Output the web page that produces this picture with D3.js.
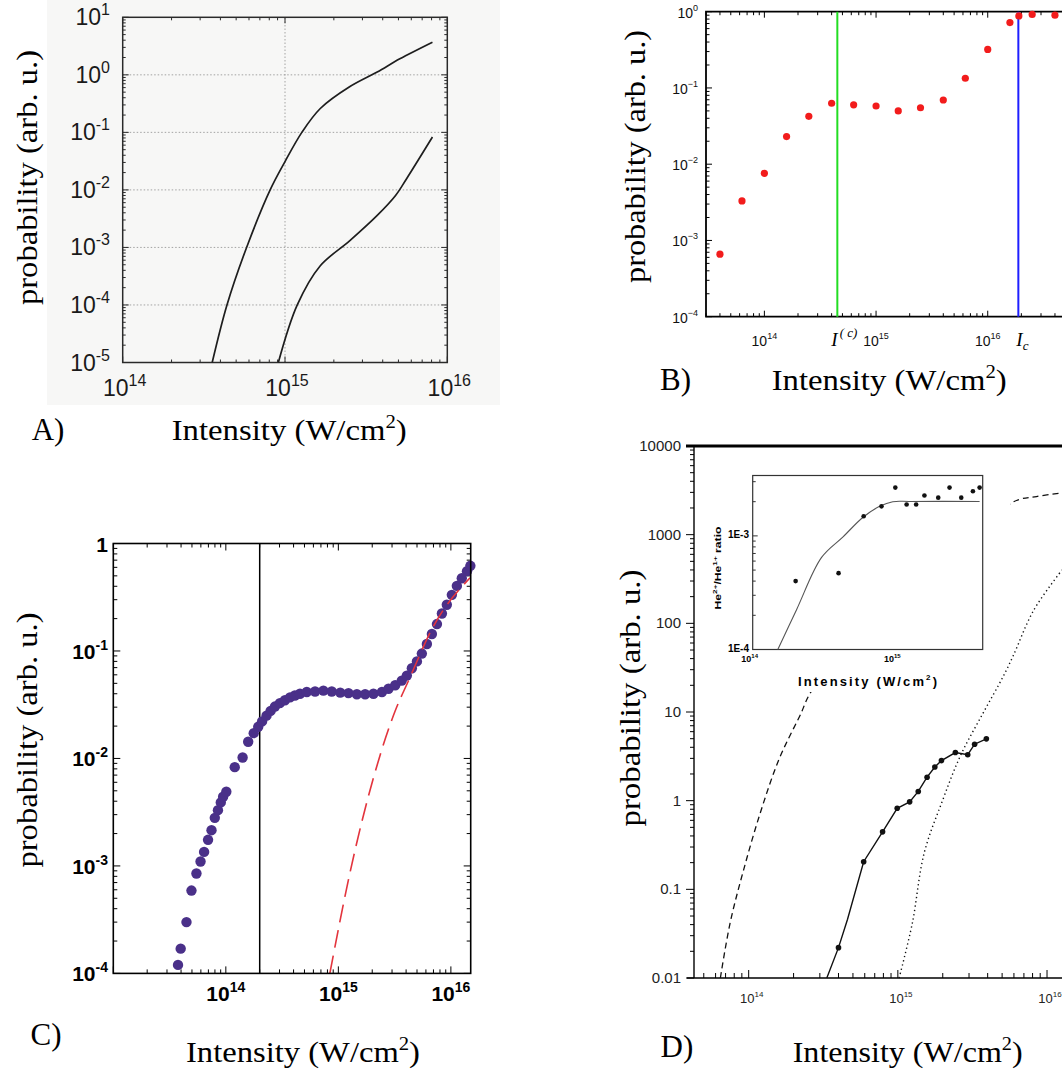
<!DOCTYPE html>
<html lang="en">
<head>
<meta charset="UTF-8">
<title>Ionization probability vs intensity</title>
<style>
  body { margin: 0; background: #fff; }
  svg { display: block; }
  .serif { font-family: "Liberation Serif", "Times New Roman", serif; }
  .sans { font-family: "Liberation Sans", Arial, sans-serif; }
</style>
</head>
<body>
<script src="https://d3js.org/d3.v7.min.js"></script>
<script>
// ---- data: [intensity W/cm2, probability] ----
// A) two computed curves
const aUpper = [[3.56e14,1e-5],[4.39e14,1e-4],[5.8e14,1e-3],[8.1e14,1e-2],[1.0e15,0.031],[1.27e15,0.1],[1.65e15,0.26],[2.5e15,0.62],[3.7e15,1.12],[5.1e15,1.9],[8.1e15,3.7]];
const aLower = [[9.1e14,1e-5],[1.19e15,1e-4],[1.65e15,4.8e-4],[2.5e15,1.3e-3],[3.7e15,3.6e-3],[4.8e15,8e-3],[5.6e15,0.0155],[8.1e15,0.083]];

// B) red points and the two marked intensities
const bPoints = [[4e13,6.6e-4],[6.3e13,3.3e-3],[1e14,7.6e-3],[1.58e14,0.023],[2.5e14,0.0425],[4e14,0.063],[6.3e14,0.060],[1e15,0.058],[1.58e15,0.050],[2.5e15,0.055],[4e15,0.0695],[6.3e15,0.134],[1e16,0.32],[1.58e16,0.72],[1.9e16,0.88],[2.5e16,0.92],[4e16,0.90]];
const bIcLow = 4.5e14;   // I^(c)
const bIcHigh = 1.88e16; // I_c

// C) purple points, dashed red curve, vertical marker
const cPoints = [[3.76e13,1.2e-4],[3.97e13,1.7e-4],[4.47e13,3.0e-4],[4.95e13,5.9e-4],[5.48e13,8.5e-4],[5.96e13,1.1e-3],[6.41e13,1.35e-3],[6.95e13,1.75e-3],[7.46e13,2.15e-3],[7.98e13,2.8e-3],[8.51e13,3.3e-3],[9.02e13,3.9e-3],[9.46e13,4.4e-3],[1.01e14,4.9e-3],[1.2e14,8.3e-3],[1.41e14,0.0102],[1.58e14,0.0143],[1.77e14,0.0172],[1.94e14,0.0197],[2.1e14,0.0221],[2.3e14,0.025],[2.5e14,0.0277],[2.73e14,0.0304],[3.02e14,0.0327],[3.35e14,0.0348],[3.72e14,0.037],[4.11e14,0.0385],[4.56e14,0.040],[5.24e14,0.0415],[6.21e14,0.042],[7.36e14,0.0428],[8.73e14,0.042],[1.04e15,0.041],[1.23e15,0.0405],[1.46e15,0.0396],[1.73e15,0.0396],[2.05e15,0.040],[2.44e15,0.0415],[2.79e15,0.0445],[3.2e15,0.048],[3.66e15,0.053],[4.06e15,0.059],[4.5e15,0.069],[4.99e15,0.080],[5.52e15,0.0946],[6.12e15,0.116],[6.78e15,0.144],[7.52e15,0.178],[8.32e15,0.223],[9.2e15,0.269],[1.02e16,0.333],[1.13e16,0.403],[1.25e16,0.475],[1.39e16,0.553],[1.49e16,0.62]];
const cDashed = [[8.4e14,1e-4],[1.27e15,8.7e-4],[2.05e15,6.6e-3],[3.19e15,0.0275],[4.17e15,0.052],[7.0e15,0.17],[1.48e16,0.48]];
const cMarker = 2e14;

// D) dashed and dotted curves, measured line with points
const dDashed = [[6.46e13,0.01],[7.5e13,0.0414],[9.25e13,0.166],[1.2e14,0.741],[1.6e14,2.95],[2.18e14,8.71],[2.83e14,20.4],[5.8e15,2290],[8.5e15,2690],[1.26e16,2950]];
const dDotted = [[1.02e15,0.01],[1.25e15,0.0414],[1.5e15,0.255],[2.0e15,1.02],[2.65e15,3.31],[3.72e15,9.66],[5.08e15,25.1],[5.94e15,43.2],[8.13e15,140],[1.26e16,400]];
const dLine = [[3.34e14,0.01],[4e14,0.022],[4.6e14,0.046],[5.9e14,0.205],[7.9e14,0.445],[9.9e14,0.82],[1.2e15,0.97],[1.37e15,1.27],[1.57e15,1.84],[1.77e15,2.4],[1.96e15,2.83],[2.43e15,3.49],[2.94e15,3.3],[3.27e15,4.33],[3.92e15,4.98]];
const dDots = dLine.slice(1).filter(d => d[0] !== 4.6e14);
const dYTicks = [0.01, 0.1, 1, 10, 100, 1000, 10000];

// D inset: He2+/He1+ ratio
const insetCurve = [[1.5e14,1e-4],[2.03e14,2.24e-4],[3.04e14,6.46e-4],[4.3e14,9.8e-4],[5.94e14,1.46e-3],[7.76e14,1.82e-3],[9.6e14,2.0e-3],[1.26e15,2.01e-3],[3.9e15,2.01e-3]];
const insetPoints = [[2e14,4e-4],[4e14,4.7e-4],[6e14,1.49e-3],[8e14,1.82e-3],[1e15,2.66e-3],[1.2e15,1.89e-3],[1.4e15,1.89e-3],[1.6e15,2.27e-3],[2e15,2.17e-3],[2.4e15,2.66e-3],[2.9e15,2.17e-3],[3.5e15,2.47e-3],[3.9e15,2.66e-3]];
const insetYTicks = [[1e-3,"1E-3"],[1e-4,"1E-4"]];

const xDecades = [1e14, 1e15, 1e16];

const svg = d3.select("body").append("svg")
    .attr("width", 1062).attr("height", 1074);

const isMajor = v => Math.abs(Math.log10(v) - Math.round(Math.log10(v))) < 1e-6;
const expOf = v => Math.round(Math.log10(v));
const smooth = d3.curveCatmullRom.alpha(0.5);

// draw tick marks of a log scale along one axis line
function ticks(g, scale, axis, at, dir, major, minor, color, width, vals) {
    const t = vals || scale.ticks();
    const a = axis === "x" ? ["x1", "x2", "y1", "y2"] : ["y1", "y2", "x1", "x2"];
    g.append("g").selectAll("line").data(t).join("line")
        .attr(a[0], d => scale(d)).attr(a[1], d => scale(d))
        .attr(a[2], at)
        .attr(a[3], d => at + dir * (isMajor(d) ? major : minor))
        .attr("stroke", color).attr("stroke-width", width);
}

// "10" with a raised exponent
function pow10(text, exp, supSize, rise) {
    text.append("tspan").text("10");
    text.append("tspan").attr("font-size", supSize).attr("dy", -rise).text(exp);
}

function xLabel(x, y, len) {
    const t = svg.append("text").attr("class", "serif")
        .attr("x", x).attr("y", y).attr("font-size", 30)
        .attr("textLength", len).attr("lengthAdjust", "spacingAndGlyphs");
    t.append("tspan").text("Intensity (W/cm");
    t.append("tspan").attr("font-size", 19).attr("dy", -12).text("2");
    t.append("tspan").attr("dy", 12).text(")");
}

function yLabel(x, y, len) {
    svg.append("text").attr("class", "serif")
        .attr("transform", `translate(${x},${y}) rotate(-90)`)
        .attr("text-anchor", "middle").attr("font-size", 30)
        .attr("textLength", len).attr("lengthAdjust", "spacingAndGlyphs")
        .text("probability (arb. u.)");
}

function panelTag(x, y, s) {
    svg.append("text").attr("class", "serif").attr("x", x).attr("y", y)
        .attr("font-size", 31).text(s);
}

// ================= A =================
{
    const x = d3.scaleLog().domain([1e14, 1e16]).range([122.7, 447.3]);
    const y = d3.scaleLog().domain([1e-5, 10]).range([362.5, 17.3]);
    const g = svg.append("g");

    g.append("rect").attr("x", 47).attr("y", 0).attr("width", 453).attr("height", 405)
        .attr("fill", "#f7f7f6");

    // dotted grid
    g.append("g").selectAll("line").data([1e-4, 1e-3, 1e-2, 1e-1, 1]).join("line")
        .attr("x1", x.range()[0]).attr("x2", x.range()[1])
        .attr("y1", d => y(d)).attr("y2", d => y(d))
        .attr("stroke", "#9a9a9a").attr("stroke-width", 0.9).attr("stroke-dasharray", "1.5,2");
    g.append("line").attr("x1", x(1e15)).attr("x2", x(1e15))
        .attr("y1", y.range()[0]).attr("y2", y.range()[1])
        .attr("stroke", "#9a9a9a").attr("stroke-width", 0.9).attr("stroke-dasharray", "1.5,2");

    const c = "#2a2a2a";
    ticks(g, x, "x", y.range()[0], -1, 6, 3, c, 1);
    ticks(g, x, "x", y.range()[1], 1, 6, 3, c, 1);
    ticks(g, y, "y", x.range()[0], 1, 6, 3, c, 1);
    ticks(g, y, "y", x.range()[1], -1, 6, 3, c, 1);

    g.append("rect").attr("x", 122.7).attr("y", 17.3)
        .attr("width", 447.3 - 122.7).attr("height", 362.5 - 17.3)
        .attr("fill", "none").attr("stroke", c).attr("stroke-width", 1.5);

    const line = d3.line().x(d => x(d[0])).y(d => y(d[1])).curve(smooth);
    [aUpper, aLower].forEach(s => {
        g.append("path").attr("d", line(s)).attr("fill", "none")
            .attr("stroke", "#1e1e1e").attr("stroke-width", 1.7);
    });

    y.ticks().filter(isMajor).forEach(v => {
        const t = g.append("text").attr("class", "sans").attr("x", 110).attr("y", y(v) + 8)
            .attr("text-anchor", "end").attr("font-size", 23).attr("fill", "#1a1a1a");
        pow10(t, String(expOf(v)), 16, 10);
    });
    xDecades.forEach(v => {
        const t = g.append("text").attr("class", "sans").attr("x", x(v) + 2).attr("y", 396)
            .attr("text-anchor", "middle").attr("font-size", 23).attr("fill", "#1a1a1a");
        pow10(t, String(expOf(v)), 16, 10);
    });

    yLabel(37, 177.5, 255);
    xLabel(171.7, 440, 235);
    panelTag(31.7, 440, "A)");
}

// ================= B =================
{
    const x = d3.scaleLog().domain([3e13, 1e17]).range([706, 1099.4]);
    const y = d3.scaleLog().domain([1e-4, 1]).range([316.7, 11.7]);
    const g = svg.append("g");

    ticks(g, x, "x", 316.7, -1, 6, 3.5, "#000", 1);
    ticks(g, x, "x", 11.7, 1, 6, 3.5, "#000", 1);
    ticks(g, y, "y", 706, 1, 6, 3.5, "#000", 1);

    g.append("path").attr("d", `M1062,11.7H706V316.7H1062`)
        .attr("fill", "none").attr("stroke", "#000").attr("stroke-width", 1.8);

    g.append("line").attr("x1", x(bIcLow)).attr("x2", x(bIcLow))
        .attr("y1", y.range()[0]).attr("y2", y.range()[1])
        .attr("stroke", "#22dd22").attr("stroke-width", 2);
    g.append("line").attr("x1", x(bIcHigh)).attr("x2", x(bIcHigh))
        .attr("y1", y.range()[0]).attr("y2", y.range()[1])
        .attr("stroke", "#1f1fff").attr("stroke-width", 2);

    g.append("g").selectAll("circle").data(bPoints).join("circle")
        .attr("cx", d => x(d[0])).attr("cy", d => y(d[1])).attr("r", 3.6)
        .attr("fill", "#f21c1c");

    y.ticks().filter(isMajor).forEach(v => {
        const e = expOf(v);
        const t = g.append("text").attr("class", "sans").attr("x", 698).attr("y", y(v) + 6)
            .attr("text-anchor", "end").attr("font-size", 14).attr("fill", "#111");
        pow10(t, e < 0 ? "\u2212" + (-e) : String(e), 9, 7);
    });
    xDecades.forEach(v => {
        const t = g.append("text").attr("class", "sans").attr("x", x(v)).attr("y", 346)
            .attr("text-anchor", "middle").attr("font-size", 14).attr("fill", "#111");
        pow10(t, String(expOf(v)), 9, 7);
    });

    const i1 = g.append("text").attr("class", "serif").attr("x", x(bIcLow) - 6).attr("y", 346)
        .attr("font-size", 19).attr("font-style", "italic");
    i1.append("tspan").text("I");
    i1.append("tspan").attr("font-size", 13).attr("dy", -9).attr("dx", 2).text("( c)");
    const i2 = g.append("text").attr("class", "serif").attr("x", x(bIcHigh) - 2).attr("y", 346)
        .attr("font-size", 19).attr("font-style", "italic");
    i2.append("tspan").text("I");
    i2.append("tspan").attr("font-size", 13).attr("dy", 4).text("c");

    yLabel(645, 156.5, 253);
    xLabel(771.7, 390, 235);
    panelTag(660, 390, "B)");
}

// ================= C =================
{
    const x = d3.scaleLog().domain([1e13, 1.5e16]).range([113.3, 470.7]);
    const y = d3.scaleLog().domain([1e-4, 1]).range([973.4, 543.5]);
    const g = svg.append("g");

    ticks(g, x, "x", 973.4, -1, 7, 4, "#000", 1);
    ticks(g, x, "x", 543.5, 1, 7, 4, "#000", 1);
    ticks(g, y, "y", 113.3, 1, 7, 4, "#000", 1);
    ticks(g, y, "y", 470.7, -1, 7, 4, "#000", 1);

    g.append("line").attr("x1", x(cMarker)).attr("x2", x(cMarker))
        .attr("y1", y.range()[0]).attr("y2", y.range()[1])
        .attr("stroke", "#000").attr("stroke-width", 1.5);

    g.append("g").selectAll("circle").data(cPoints).join("circle")
        .attr("cx", d => x(d[0])).attr("cy", d => y(d[1])).attr("r", 5.2)
        .attr("fill", "#4a3089");

    const line = d3.line().x(d => x(d[0])).y(d => y(d[1])).curve(d3.curveMonotoneX);
    g.append("path").attr("d", line(cDashed)).attr("fill", "none")
        .attr("stroke", "#e3343d").attr("stroke-width", 1.6).attr("stroke-dasharray", "18,8");

    g.append("rect").attr("x", 113.3).attr("y", 543.5)
        .attr("width", 470.7 - 113.3).attr("height", 973.4 - 543.5)
        .attr("fill", "none").attr("stroke", "#000").attr("stroke-width", 1.6);

    y.ticks().filter(isMajor).forEach(v => {
        const e = expOf(v);
        const t = g.append("text").attr("class", "sans").attr("x", 108).attr("y", y(v) + 8)
            .attr("text-anchor", "end").attr("font-size", 21).attr("font-weight", "bold");
        if (e === 0) t.text("1");
        else pow10(t, String(e), 14, 9);
    });
    xDecades.forEach(v => {
        const t = g.append("text").attr("class", "sans").attr("x", x(v)).attr("y", 1001)
            .attr("text-anchor", "middle").attr("font-size", 21).attr("font-weight", "bold");
        pow10(t, String(expOf(v)), 14, 9);
    });

    yLabel(37, 740, 255);
    xLabel(186, 1062, 234);
    panelTag(30.5, 1045, "C)");
}

// ================= D =================
{
    const x = d3.scaleLog().domain([4.3e13, 1.26e16]).range([694, 1062]);
    const y = d3.scaleLog().domain([0.01, 1e4]).range([978, 446]);
    const g = svg.append("g");

    ticks(g, y, "y", 694, -1, 8, 4, "#000", 1);
    ticks(g, x, "x", 978, -1, 8, 5, "#000", 1);

    g.append("line").attr("x1", 694).attr("x2", 694).attr("y1", 446).attr("y2", 978)
        .attr("stroke", "#000").attr("stroke-width", 1.4);
    g.append("line").attr("x1", 687).attr("x2", 1062).attr("y1", 978).attr("y2", 978)
        .attr("stroke", "#000").attr("stroke-width", 1.6);
    g.append("line").attr("x1", 686).attr("x2", 1062).attr("y1", 446).attr("y2", 446)
        .attr("stroke", "#000").attr("stroke-width", 3);

    const line = d3.line().x(d => x(d[0])).y(d => y(d[1])).curve(smooth);
    g.append("path").attr("d", line(dDashed)).attr("fill", "none")
        .attr("stroke", "#111").attr("stroke-width", 1.3).attr("stroke-dasharray", "6,4");
    g.append("path").attr("d", line(dDotted)).attr("fill", "none")
        .attr("stroke", "#111").attr("stroke-width", 1.4).attr("stroke-dasharray", "1.3,3");
    g.append("path").attr("d", d3.line().x(d => x(d[0])).y(d => y(d[1]))(dLine))
        .attr("fill", "none").attr("stroke", "#111").attr("stroke-width", 1.4);
    g.append("g").selectAll("circle").data(dDots).join("circle")
        .attr("cx", d => x(d[0])).attr("cy", d => y(d[1])).attr("r", 2.8).attr("fill", "#111");

    dYTicks.forEach(v => {
        g.append("text").attr("class", "sans").attr("x", 681).attr("y", y(v) + 5)
            .attr("text-anchor", "end").attr("font-size", 15).attr("fill", "#222").text(String(v));
    });
    xDecades.forEach(v => {
        const t = g.append("text").attr("class", "sans").attr("x", x(v) + 3).attr("y", 1003)
            .attr("text-anchor", "middle").attr("font-size", 13).attr("fill", "#222");
        pow10(t, String(expOf(v)), 8, 6);
    });

    // ---- inset (white backing hides the curves behind it) ----
    const xi = d3.scaleLog().domain([1e14, 4.1e15]).range([752.7, 982.7]);
    const yi = d3.scaleLog().domain([1e-4, 3.4e-3]).range([649.5, 475.5]);
    const gi = svg.append("g");
    gi.append("rect").attr("x", 705).attr("y", 466).attr("width", 305).attr("height", 184)
        .attr("fill", "#fff");
    gi.append("rect").attr("x", 730).attr("y", 650).attr("width", 215).attr("height", 42)
        .attr("fill", "#fff");
    ticks(gi, yi, "y", 752.7, 1, 5, 3, "#333", 1, yi.ticks());
    gi.append("rect").attr("x", 752.7).attr("y", 475.5)
        .attr("width", 982.7 - 752.7).attr("height", 649.5 - 475.5)
        .attr("fill", "none").attr("stroke", "#333").attr("stroke-width", 1.2);
    const li = d3.line().x(d => xi(d[0])).y(d => yi(d[1])).curve(smooth);
    gi.append("path").attr("d", li(insetCurve)).attr("fill", "none")
        .attr("stroke", "#555").attr("stroke-width", 1.1);
    gi.append("g").selectAll("circle").data(insetPoints).join("circle")
        .attr("cx", d => xi(d[0])).attr("cy", d => yi(d[1])).attr("r", 2.3).attr("fill", "#111");

    insetYTicks.forEach(([v, s]) => {
        gi.append("text").attr("class", "sans").attr("x", 749).attr("y", yi(v) + 2)
            .attr("text-anchor", "end").attr("font-size", 10).attr("font-weight", "bold").text(s);
    });
    [1e14, 1e15].forEach(v => {
        const t = gi.append("text").attr("class", "sans").attr("x", xi(v) - 3).attr("y", 662)
            .attr("text-anchor", "middle").attr("font-size", 9).attr("font-weight", "bold");
        pow10(t, String(expOf(v)), 6, 4);
    });
    const ix = gi.append("text").attr("class", "sans").attr("x", 798).attr("y", 686)
        .attr("font-size", 13).attr("font-weight", "bold")
        .attr("textLength", 139).attr("lengthAdjust", "spacing");
    ix.append("tspan").text("Intensity (W/cm");
    ix.append("tspan").attr("font-size", 8).attr("dy", -6).text("2");
    ix.append("tspan").attr("dy", 6).text(")");
    const iy = gi.append("text").attr("class", "sans")
        .attr("transform", "translate(721,568) rotate(-90)")
        .attr("text-anchor", "middle").attr("font-size", 9).attr("font-weight", "bold")
        .attr("textLength", 83).attr("lengthAdjust", "spacingAndGlyphs");
    iy.append("tspan").text("He");
    iy.append("tspan").attr("font-size", 6).attr("dy", -4).text("2+");
    iy.append("tspan").attr("dy", 4).text("/He");
    iy.append("tspan").attr("font-size", 6).attr("dy", -4).text("1+");
    iy.append("tspan").attr("dy", 4).text(" ratio");

    yLabel(640, 698, 257);
    xLabel(792.7, 1062, 230);
    panelTag(660.6, 1057, "D)");
}
</script>
</body>
</html>
